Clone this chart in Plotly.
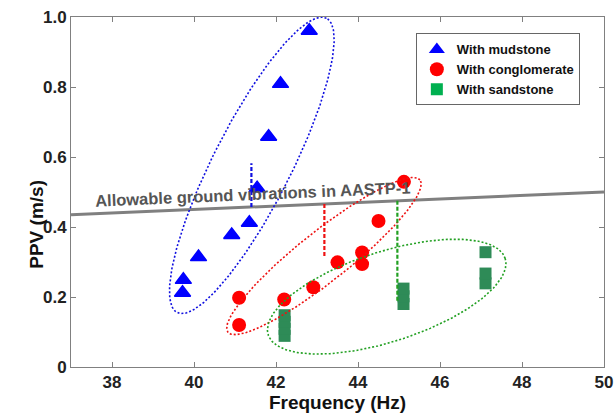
import numpy as np
import plotly.graph_objects as go

# Peak particle velocity vs. dominant frequency, grouped by host rock
mud_freq = [39.72, 39.74, 40.11, 40.92, 41.35, 41.54, 41.82, 42.11, 42.81]
mud_ppv = [0.212, 0.249, 0.314, 0.377, 0.412, 0.511, 0.658, 0.809, 0.961]

cong_freq = [41.10, 41.10, 42.20, 42.91, 43.50, 44.10, 44.10, 44.50, 45.12]
cong_ppv = [0.120, 0.198, 0.193, 0.228, 0.299, 0.294, 0.327, 0.417, 0.529]

sand_freq = [42.21, 42.21, 42.21, 42.21, 45.11, 45.11, 45.11, 47.11, 47.11, 47.11]
sand_ppv = [0.089, 0.109, 0.129, 0.148, 0.180, 0.202, 0.224, 0.239, 0.267, 0.328]

# Allowable ground vibration limit (AASTP-1)
limit_freq = [37, 50]
limit_ppv = [0.435, 0.500]

# Vertical guides from the limit line to each group
guide_freq = [41.40, 43.18, 44.96]
guide_ppv_end = [0.582, 0.315, 0.187]
guide_colors = ["#1010e0", "#ee1111", "#22a022"]

x_ticks = [38, 40, 42, 44, 46, 48, 50]
y_ticks = [0, 0.2, 0.4, 0.6, 0.8, 1.0]
y_tick_labels = ["0", "0.2", "0.4", "0.6", "0.8", "1.0"]

W, H = 614, 418
M = dict(l=71, r=10, t=17, b=51)
X_RANGE = [37, 50]
Y_RANGE = [0, 1.0]
px_per_x = (W - M["l"] - M["r"]) / (X_RANGE[1] - X_RANGE[0])
px_per_y = (H - M["t"] - M["b"]) / (Y_RANGE[1] - Y_RANGE[0])

# Group outlines: centre in data units, semi-axes in pixels, tilt in degrees
outlines = [
    dict(cx=41.41, cy=0.576, a=165, b=39, ang=63.1, color="#1010e0"),
    dict(cx=43.17, cy=0.317, a=122.5, b=25, ang=38.4, color="#ee1111"),
    dict(cx=44.70, cy=0.201, a=124.5, b=45, ang=17.9, color="#22a022"),
]

FONT = "Arial, Liberation Sans, sans-serif"
AX = "#808080"

fig = go.Figure()

fig.add_trace(go.Scatter(
    x=limit_freq, y=limit_ppv, mode="lines",
    line=dict(color="#808080", width=3), showlegend=False, hoverinfo="skip"))

fig.add_trace(go.Scatter(
    x=mud_freq, y=mud_ppv, mode="markers", name="With mudstone", showlegend=False,
    marker=dict(symbol="triangle-up", size=14, color="#0000ff",
                line=dict(color="#0000ff", width=1.5))))
fig.add_trace(go.Scatter(
    x=cong_freq, y=cong_ppv, mode="markers", name="With conglomerate", showlegend=False,
    marker=dict(symbol="circle", size=14, color="#ff0000")))
fig.add_trace(go.Scatter(
    x=sand_freq, y=sand_ppv, mode="markers", name="With sandstone", showlegend=False,
    marker=dict(symbol="square", size=12, color="#2e8b57")))

t = np.linspace(0, 2 * np.pi, 240)
for o in outlines:
    th = np.radians(o["ang"])
    dx = o["a"] * np.cos(t) * np.cos(th) - o["b"] * np.sin(t) * np.sin(th)
    dy = o["a"] * np.cos(t) * np.sin(th) + o["b"] * np.sin(t) * np.cos(th)
    fig.add_trace(go.Scatter(
        x=o["cx"] + dx / px_per_x, y=o["cy"] + dy / px_per_y, mode="lines",
        line=dict(color=o["color"], width=1.6, dash="2px,2px"),
        showlegend=False, hoverinfo="skip"))

guide_start = np.interp(guide_freq, limit_freq, limit_ppv)
for gx, g0, g1, gc in zip(guide_freq, guide_start, guide_ppv_end, guide_colors):
    fig.add_trace(go.Scatter(
        x=[gx, gx], y=[g0, g1], mode="lines",
        line=dict(color=gc, width=2.2, dash="4px,2px"),
        showlegend=False, hoverinfo="skip"))

# Legend entries
for name, sym, size, col in [("With mudstone", "triangle-up", 14, "#0000ff"),
                             ("With conglomerate", "circle", 14, "#ff0000"),
                             ("With sandstone", "square", 12, "#00b050")]:
    fig.add_trace(go.Scatter(x=[None], y=[None], mode="markers", name=name,
                             marker=dict(symbol=sym, size=size, color=col)))

fig.add_annotation(
    x=41.44, y=0.494, xref="x", yref="y", text="Allowable ground vibrations in AASTP-1",
    showarrow=False, textangle=-2.45,
    font=dict(family=FONT, size=16.5, color="#555555", weight="bold"))

fig.add_annotation(
    x=-0.064, y=0.409, xref="paper", yref="paper", text="PPV (m/s)",
    showarrow=False, textangle=-90, xanchor="center", yanchor="middle",
    font=dict(family=FONT, size=19, color="#111111", weight="bold"))

axis_common = dict(showline=True, linecolor=AX, linewidth=1, mirror="ticks",
                   ticks="inside", ticklen=5, tickcolor=AX, showgrid=False,
                   zeroline=False, automargin=False,
                   tickfont=dict(family=FONT, size=17, color="#222222", weight="bold"))

fig.update_xaxes(range=X_RANGE, tickvals=x_ticks, **axis_common,
                 title=dict(text="Frequency (Hz)", standoff=4,
                            font=dict(family=FONT, size=19, color="#111111", weight="bold")))
fig.update_yaxes(range=Y_RANGE, tickvals=y_ticks, ticktext=y_tick_labels, **axis_common)

fig.update_layout(
    width=W, height=H, margin=M,
    paper_bgcolor="white", plot_bgcolor="white",
    legend=dict(x=0.647, y=0.953, xanchor="left", yanchor="top",
                bordercolor="#666666", borderwidth=1, bgcolor="white",
                font=dict(family=FONT, size=13, color="#111111", weight="bold")),
)

fig.write_html("out.html")
